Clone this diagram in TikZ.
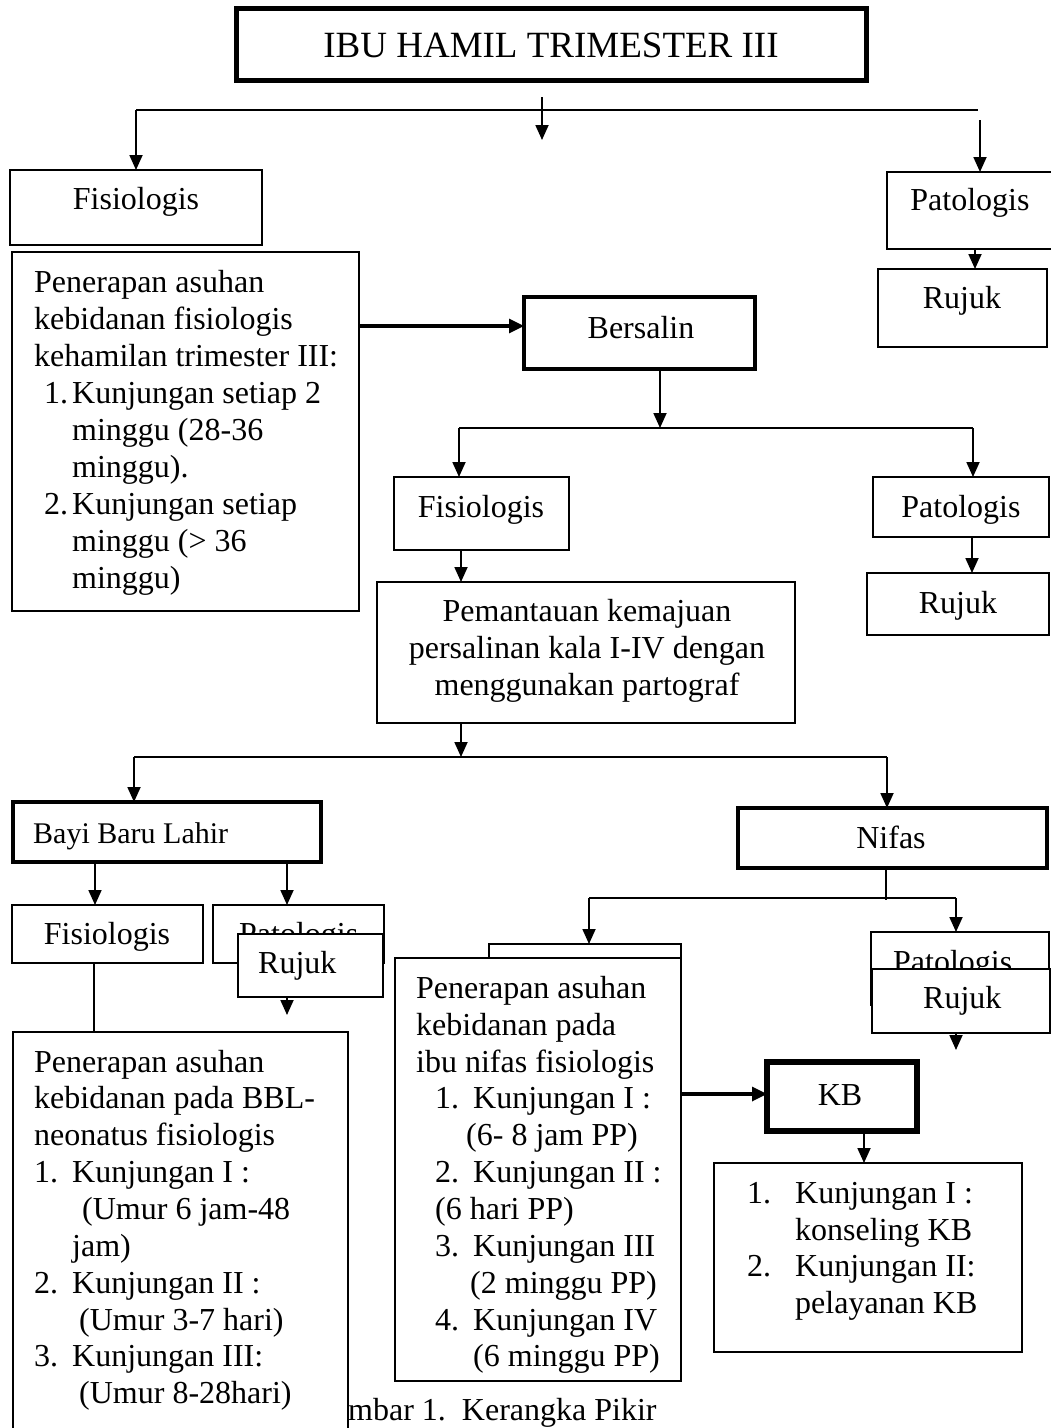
\documentclass[tikz,border=0pt]{standalone}
\usepackage{fontspec}
\setmainfont{Liberation Serif}
\usetikzlibrary{arrows.meta}
\begin{document}
\begin{tikzpicture}[x=1pt,y=-1pt,
  font=\fontsize{32}{37}\selectfont,
  box/.style={draw, line width=1.8pt, fill=white, inner sep=0pt, outer sep=0pt, anchor=north west},
  thickbox/.style={box, line width=4pt},
  tb/.style={inner sep=0pt, anchor=base west},
  tc/.style={inner sep=0pt, anchor=base},
  arr/.style={line width=1.8pt, -{Triangle[length=15pt,width=13pt]}},
  arrb/.style={line width=3.2pt, -{Triangle[length=15pt,width=14pt]}},
  ln/.style={line width=1.8pt}]
\useasboundingbox (0,0) rectangle (1051,1428);

% ---------- top ----------
\node[box, line width=5pt, minimum width=630pt, minimum height=72pt] (title) at (236,8) {};
\node[tc, font=\fontsize{37}{44}\selectfont] (titlet) at (551,57) {IBU HAMIL TRIMESTER III};

\node[box, minimum width=252pt, minimum height=75pt] (fis1) at (10,170) {};
\node[tc] (fis1t) at (136,209) {Fisiologis};

\node[box, minimum width=170pt, minimum height=77pt] (pat1) at (887,172) {};
\node[tc] (pat1t) at (970,210) {Patologis};

\node[box, minimum width=169pt, minimum height=78pt] (rj1) at (878,269) {};
\node[tc] (rj1t) at (962,308) {Rujuk};

\node[box, minimum width=347pt, minimum height=359pt] (fisb) at (12,252) {};
\node[tb] (fb1) at (34,292) {Penerapan asuhan};
\node[tb] (fb2) at (34,329) {kebidanan fisiologis};
\node[tb] (fb3) at (34,366) {kehamilan trimester III:};
\node[tb] (fb4n) at (44,403) {1.};
\node[tb] (fb4) at (72,403) {Kunjungan setiap 2};
\node[tb] (fb5) at (72,440) {minggu (28-36};
\node[tb] (fb6) at (72,477) {minggu).};
\node[tb] (fb7n) at (44,514) {2.};
\node[tb] (fb7) at (72,514) {Kunjungan setiap};
\node[tb] (fb8) at (72,551) {minggu (> 36};
\node[tb] (fb9) at (72,588) {minggu)};

\node[thickbox, minimum width=231pt, minimum height=72pt] (bers) at (524,297) {};
\node[tc] (berst) at (641,338) {Bersalin};

\node[box, minimum width=175pt, minimum height=73pt] (fis2) at (394,477) {};
\node[tc] (fis2t) at (481,517) {Fisiologis};

\node[box, minimum width=176pt, minimum height=60pt] (pat2) at (873,477) {};
\node[tc] (pat2t) at (961,517) {Patologis};

\node[box, minimum width=182pt, minimum height=62pt] (rj2) at (867,573) {};
\node[tc] (rj2t) at (958,613) {Rujuk};

\node[box, minimum width=418pt, minimum height=141pt] (pem) at (377,582) {};
\node[tc] (pem1) at (587,621) {Pemantauan kemajuan};
\node[tc] (pem2) at (587,658) {persalinan kala I-IV dengan};
\node[tc] (pem3) at (587,695) {menggunakan partograf};

% ---------- middle ----------
\node[thickbox, minimum width=308pt, minimum height=60pt] (bbl) at (13,802) {};
\node[tb, font=\fontsize{30}{36}\selectfont] (bblt) at (33,843) {Bayi Baru Lahir};

\node[thickbox, minimum width=309pt, minimum height=60pt] (nif) at (738,808) {};
\node[tc] (nift) at (891,848) {Nifas};

\node[box, minimum width=191pt, minimum height=58pt] (fis3) at (12,905) {};
\node[tc] (fis3t) at (107,944) {Fisiologis};

\node[box, minimum width=171pt, minimum height=58pt] (pat3) at (213,905) {};
\node[tb] (pat3t) at (239,944) {Patologis};
\node[box, minimum width=145pt, minimum height=63pt] (rj3) at (238,934) {};
\node[tb] (rj3t) at (258,973) {Rujuk};

\node[box, minimum width=178pt, minimum height=73pt] (pat4) at (871,932) {};
\node[tb] (pat4t) at (893,972) {Patologis};
\node[box, minimum width=178pt, minimum height=64pt] (rj4) at (872,969) {};
\node[tb] (rj4t) at (923,1008) {Rujuk};

% ---------- bottom ----------
\node[tb] (capt) at (348,1420) {mbar 1.\ \ Kerangka Pikir};

\node[box, minimum width=192pt, minimum height=100pt] (nback) at (489,944) {};
\node[box, minimum width=286pt, minimum height=423pt] (nbig) at (395,958) {};
\node[tb] (nb1) at (416,998) {Penerapan asuhan};
\node[tb] (nb2) at (416,1035) {kebidanan pada};
\node[tb] (nb3) at (416,1072) {ibu nifas fisiologis};
\node[tb] (nb4n) at (435,1108) {1.};
\node[tb] (nb4) at (473,1108) {Kunjungan I :};
\node[tb] (nb5) at (466,1145) {(6- 8 jam PP)};
\node[tb] (nb6n) at (435,1182) {2.};
\node[tb] (nb6) at (473,1182) {Kunjungan II :};
\node[tb] (nb7) at (435,1219) {(6 hari PP)};
\node[tb] (nb8n) at (435,1256) {3.};
\node[tb] (nb8) at (473,1256) {Kunjungan III};
\node[tb] (nb9) at (470,1293) {(2 minggu PP)};
\node[tb] (nb10n) at (435,1330) {4.};
\node[tb] (nb10) at (473,1330) {Kunjungan IV};
\node[tb] (nb11) at (473,1366) {(6 minggu PP)};

\node[box, minimum width=335pt, minimum height=420pt] (bblb) at (13,1032) {};
\node[tb] (bb1) at (34,1072) {Penerapan asuhan};
\node[tb] (bb2) at (34,1108) {kebidanan pada BBL-};
\node[tb] (bb3) at (34,1145) {neonatus fisiologis};
\node[tb] (bb4n) at (34,1182) {1.};
\node[tb] (bb4) at (72,1182) {Kunjungan I :};
\node[tb] (bb5) at (82,1219) {(Umur 6 jam-48};
\node[tb] (bb6) at (72,1256) {jam)};
\node[tb] (bb7n) at (34,1293) {2.};
\node[tb] (bb7) at (72,1293) {Kunjungan II :};
\node[tb] (bb8) at (79,1330) {(Umur 3-7 hari)};
\node[tb] (bb9n) at (34,1366) {3.};
\node[tb] (bb9) at (72,1366) {Kunjungan III:};
\node[tb] (bb10) at (79,1403) {(Umur 8-28hari)};

\node[box, line width=6pt, minimum width=150pt, minimum height=69pt] (kb) at (767,1062) {};
\node[tc] (kbt) at (840,1105) {KB};

\node[box, minimum width=308pt, minimum height=189pt] (kbl) at (714,1163) {};
\node[tb] (kl1n) at (747,1203) {1.};
\node[tb] (kl1) at (795,1203) {Kunjungan I :};
\node[tb] (kl2) at (795,1240) {konseling KB};
\node[tb] (kl3n) at (747,1276) {2.};
\node[tb] (kl3) at (795,1276) {Kunjungan II:};
\node[tb] (kl4) at (795,1313) {pelayanan KB};

% ---------- connectors ----------
\coordinate (t1) at (542,97);
\coordinate (t2) at (542,140);
\draw[arr] (t1) -- (t2);
\coordinate (b1l) at (136,110);
\coordinate (b1r) at (978,110);
\draw[ln] (b1l) -- (b1r);
\draw[arr] (b1l) -- (b1l |- fis1.north);
\coordinate (p1s) at (980,120);
\draw[arr] (p1s) -- (p1s |- pat1.north);
\coordinate (x975) at (975,0);
\draw[arr] (x975 |- pat1.south) -- (x975 |- rj1.north);

\coordinate (a2) at (0,326);
\draw[arrb] (fisb.east |- a2) -- (bers.west |- a2);

\coordinate (b2m) at (660,428);
\draw[arr] (b2m |- bers.south) -- (b2m);
\coordinate (b2l) at (459,428);
\coordinate (b2r) at (973,428);
\draw[ln] (b2l) -- (b2r);
\draw[arr] (b2l) -- (b2l |- fis2.north);
\draw[arr] (b2r) -- (b2r |- pat2.north);
\coordinate (x972) at (972,0);
\draw[arr] (x972 |- pat2.south) -- (x972 |- rj2.north);
\coordinate (x461) at (461,0);
\draw[arr] (x461 |- fis2.south) -- (x461 |- pem.north);

\coordinate (b3m) at (461,757);
\draw[arr] (b3m |- pem.south) -- (b3m);
\coordinate (b3l) at (134,757);
\coordinate (b3r) at (887,757);
\draw[ln] (b3l) -- (b3r);
\draw[arr] (b3l) -- (b3l |- bbl.north);
\draw[arr] (b3r) -- (b3r |- nif.north);

\coordinate (x95) at (95,0);
\draw[arr] (x95 |- bbl.south) -- (x95 |- fis3.north);
\coordinate (x287) at (287,0);
\draw[arr] (x287 |- bbl.south) -- (x287 |- pat3.north);
\coordinate (x94) at (94,0);
\draw[ln] (x94 |- fis3.south) -- (x94 |- bblb.north);
\coordinate (r3e) at (287,1015);
\draw[arr] (r3e |- rj3.south) -- (r3e);

\coordinate (b4m) at (886,900);
\draw[ln] (b4m |- nif.south) -- (b4m);
\coordinate (b4l) at (589,898);
\coordinate (b4r) at (956,898);
\draw[ln] (b4l) -- (b4r);
\draw[arr] (b4l) -- (b4l |- nback.north);
\draw[arr] (b4r) -- (b4r |- pat4.north);
\coordinate (r4e) at (956,1050);
\draw[arr] (r4e |- rj4.south) -- (r4e);

\coordinate (a5) at (0,1094);
\draw[arrb] (nbig.east |- a5) -- (kb.west |- a5);
\coordinate (x864) at (864,0);
\draw[arr] (x864 |- kb.south) -- (x864 |- kbl.north);
\end{tikzpicture}
\end{document}
